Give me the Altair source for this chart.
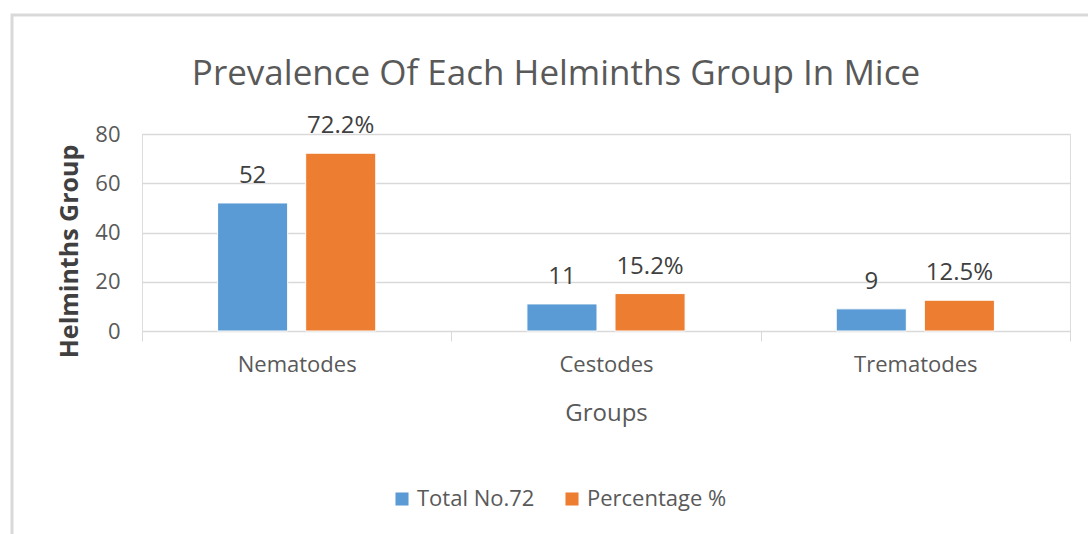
import altair as alt
import pandas as pd

categories = ["Nematodes", "Cestodes", "Trematodes"]
series = ["Total No.72", "Percentage %"]
total_values = [52, 11, 9]
percent_values = [72.2, 15.2, 12.5]
total_labels = ["52", "11", "9"]
percent_labels = ["72.2%", "15.2%", "12.5%"]
y_ticks = [0, 20, 40, 60, 80]
colors = ["#5B9BD5", "#ED7D31"]

rows = []
for c, v, l in zip(categories, total_values, total_labels):
    rows.append({"group": c, "series": series[0], "value": v, "label": l})
for c, v, l in zip(categories, percent_values, percent_labels):
    rows.append({"group": c, "series": series[1], "value": v, "label": l})
df = pd.DataFrame(rows)

FONT = "Open Sans"
GRAY = "#595959"

x = alt.X("group:N", sort=categories, title="Groups",
          scale=alt.Scale(paddingInner=0, paddingOuter=0),
          axis=alt.Axis(labelAngle=0, labelFontSize=22, labelColor=GRAY, labelFont=FONT,
                        titleFontSize=24, titleColor=GRAY, titleFont=FONT, titleFontWeight="normal",
                        titlePadding=26, tickBand="extent", tickSize=10, tickColor="#D9D9D9",
                        domainColor="#D9D9D9", labelPadding=13, grid=False))
xo = alt.XOffset("series:N", sort=series,
                 scale=alt.Scale(paddingInner=0.2045, paddingOuter=0.858))
y = alt.Y("value:Q", title="Helminths Group",
          scale=alt.Scale(domain=[0, 80], nice=False),
          axis=alt.Axis(values=y_ticks, labelFontSize=22, labelColor=GRAY, labelFont=FONT,
                        titleFontSize=25, titleColor="#404040", titleFont=FONT, titleFontWeight="bold",
                        domain=False, ticks=False, labelPadding=22, titlePadding=12, titleY=117,
                        gridColor="#D9D9D9", gridWidth=1.5))

bars = alt.Chart(df).mark_bar(stroke="white", strokeWidth=1).encode(
    x=x, xOffset=xo, y=y,
    color=alt.Color("series:N", sort=series,
                    scale=alt.Scale(domain=series, range=colors),
                    legend=alt.Legend(title=None, orient="none", legendX=249, legendY=354,
                                      direction="horizontal", symbolType="square",
                                      symbolSize=170, symbolStrokeWidth=0,
                                      labelFontSize=22, labelColor=GRAY, labelFont=FONT,
                                      columnPadding=26, labelOffset=4)),
)

text = alt.Chart(df).mark_text(baseline="bottom", dy=-15, fontSize=24, font=FONT, color="#404040").encode(
    x=alt.X("group:N", sort=categories), xOffset=xo, y="value:Q", text="label:N"
)

frame = alt.Chart(pd.DataFrame({"k": [0]})).mark_rect(
    fill=None, stroke="#D9D9D9", strokeWidth=3, clip=False
).encode(x=alt.value(-130), x2=alt.value(960), y=alt.value(-119), y2=alt.value(420))

chart = alt.layer(frame, bars, text).properties(
    width=928, height=197,
    title=alt.TitleParams("Prevalence Of Each Helminths Group In Mice", fontSize=35, font=FONT,
                          color=GRAY, fontWeight="normal", anchor="middle", dx=-50, offset=0,
                          dy=78),
    padding={"left": 142, "top": 134, "right": 18, "bottom": 203},
    autosize=alt.AutoSizeParams(type="none"),
).configure_view(stroke=None).configure(background="white")

chart.save("out.html", embed_options={"renderer": "svg", "actions": False})
